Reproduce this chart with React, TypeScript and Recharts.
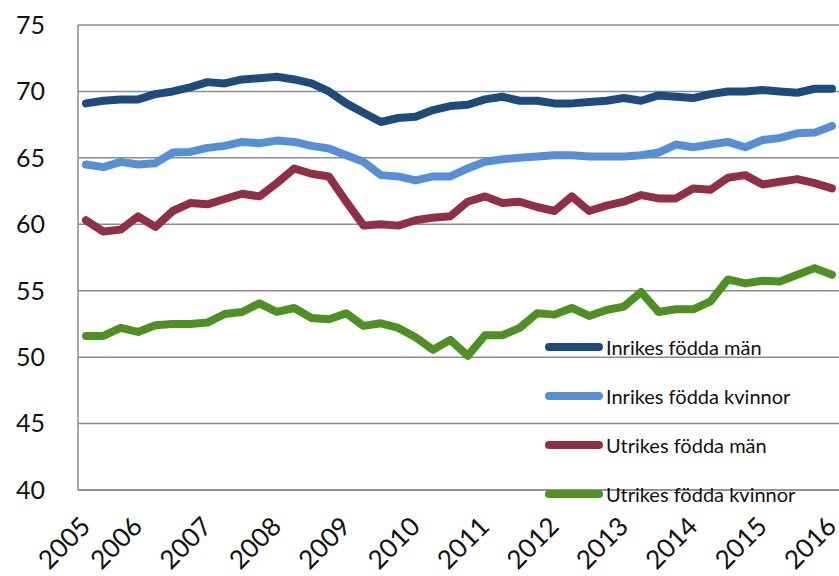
import { CartesianGrid, Legend, Line, LineChart, XAxis, YAxis } from 'recharts'

const quarters = [
  '2005K2', '2005K3', '2005K4',
  '2006K1', '2006K2', '2006K3', '2006K4',
  '2007K1', '2007K2', '2007K3', '2007K4',
  '2008K1', '2008K2', '2008K3', '2008K4',
  '2009K1', '2009K2', '2009K3', '2009K4',
  '2010K1', '2010K2', '2010K3', '2010K4',
  '2011K1', '2011K2', '2011K3', '2011K4',
  '2012K1', '2012K2', '2012K3', '2012K4',
  '2013K1', '2013K2', '2013K3', '2013K4',
  '2014K1', '2014K2', '2014K3', '2014K4',
  '2015K1', '2015K2', '2015K3', '2015K4',
  '2016K1'
]

const yearTicks = [
  '2005K2', '2006K1', '2007K1', '2008K1', '2009K1', '2010K1',
  '2011K1', '2012K1', '2013K1', '2014K1', '2015K1', '2016K1'
]

const yTicks = [40, 45, 50, 55, 60, 65, 70, 75]

const inrikesMan = [
  69.1, 69.3, 69.4, 69.4, 69.8, 70.0, 70.3, 70.7, 70.6, 70.9, 71.0, 71.1, 70.9, 70.6, 70.0,
  69.1, 68.4, 67.7, 68.0, 68.1, 68.6, 68.9, 69.0, 69.4, 69.6, 69.3, 69.3, 69.1, 69.1, 69.2,
  69.3, 69.5, 69.3, 69.7, 69.6, 69.5, 69.8, 70.0, 70.0, 70.1, 70.0, 69.9, 70.2, 70.2
]

const inrikesKvinnor = [
  64.5, 64.3, 64.7, 64.5, 64.6, 65.4, 65.45, 65.75, 65.9, 66.2, 66.1, 66.3, 66.2, 65.9, 65.7,
  65.2, 64.7, 63.7, 63.6, 63.3, 63.6, 63.6, 64.2, 64.7, 64.9, 65.0, 65.1, 65.2, 65.2, 65.1,
  65.1, 65.1, 65.2, 65.4, 66.0, 65.8, 66.0, 66.2, 65.8, 66.35, 66.5, 66.85, 66.9, 67.4
]

const utrikesMan = [
  60.3, 59.45, 59.6, 60.6, 59.8, 61.0, 61.6, 61.5, 61.9, 62.3, 62.1, 63.1, 64.2, 63.8, 63.6,
  61.7, 59.9, 60.0, 59.9, 60.3, 60.5, 60.6, 61.7, 62.1, 61.6, 61.7, 61.3, 61.0, 62.1, 61.0,
  61.4, 61.7, 62.2, 61.95, 61.95, 62.7, 62.6, 63.5, 63.7, 63.0, 63.2, 63.4, 63.1, 62.7
]

const utrikesKvinnor = [
  51.6, 51.6, 52.2, 51.9, 52.4, 52.5, 52.5, 52.6, 53.25, 53.4, 54.05, 53.4, 53.7, 52.95, 52.85,
  53.3, 52.35, 52.55, 52.2, 51.5, 50.55, 51.3, 50.1, 51.65, 51.65, 52.2, 53.3, 53.2, 53.7, 53.1,
  53.55, 53.8, 54.9, 53.4, 53.6, 53.6, 54.2, 55.85, 55.55, 55.75, 55.7, 56.2, 56.7, 56.2
]

const series = [
  { key: 'inrikesMan', name: 'Inrikes födda män', color: '#1f4a7c' },
  { key: 'inrikesKvinnor', name: 'Inrikes födda kvinnor', color: '#5590d6' },
  { key: 'utrikesMan', name: 'Utrikes födda män', color: '#922f48' },
  { key: 'utrikesKvinnor', name: 'Utrikes födda kvinnor', color: '#4f9022' }
]

const data = quarters.map((q, i) => ({
  q,
  inrikesMan: inrikesMan[i],
  inrikesKvinnor: inrikesKvinnor[i],
  utrikesMan: utrikesMan[i],
  utrikesKvinnor: utrikesKvinnor[i]
}))

const FONT = 'Lato, "Open Sans", sans-serif'

function YearTick({ x, y, payload }: any) {
  const ax = x + 6
  const ay = y + 38
  return (
    <text
      x={ax}
      y={ay}
      textAnchor="end"
      fontSize={26}
      fontFamily={FONT}
      fill="#111"
      transform={`rotate(-45 ${ax} ${ay})`}
    >
      {String(payload.value).slice(0, 4)}
    </text>
  )
}

function LegendBox() {
  return (
    <div style={{ display: 'flex', flexDirection: 'column' }}>
      {series.map((s) => (
        <div key={s.key} style={{ height: 49, display: 'flex', alignItems: 'center' }}>
          <svg width={64} height={10}>
            <line x1={8} y1={5} x2={58} y2={5} stroke={s.color} strokeWidth={8} strokeLinecap="round" />
          </svg>
          <span style={{ fontSize: 20, fontFamily: FONT, color: '#111', marginLeft: 1, whiteSpace: 'nowrap' }}>
            {s.name}
          </span>
        </div>
      ))}
    </div>
  )
}

export default function App() {
  return (
    <div style={{ position: 'absolute', left: 0, top: 0, width: 839, height: 576, background: '#fff' }}>
      <LineChart width={839} height={576} data={data} margin={{ top: 25, right: 0, bottom: 0, left: 0 }}>
        <CartesianGrid vertical={false} stroke="#8c8c8c" strokeWidth={1.5} />
        <XAxis
          dataKey="q"
          ticks={yearTicks}
          interval={0}
          height={86}
          padding={{ left: 8, right: 7 }}
          tickLine={false}
          tickSize={0}
          tickMargin={0}
          axisLine={{ stroke: '#8c8c8c', strokeWidth: 1.5 }}
          tick={<YearTick />}
        />
        <YAxis
          domain={[40, 75]}
          ticks={yTicks}
          interval={0}
          width={78}
          tickLine={false}
          tickSize={0}
          tickMargin={33}
          axisLine={{ stroke: '#8c8c8c', strokeWidth: 1.5 }}
          tick={{ fontSize: 25, fontFamily: FONT, fill: '#111' }}
        />
        <Legend
          layout="vertical"
          align="center"
          verticalAlign="middle"
          content={<LegendBox />}
          wrapperStyle={{ left: 541, top: 322, width: 298 }}
        />
        {series.map((s) => (
          <Line
            key={s.key}
            type="linear"
            dataKey={s.key}
            name={s.name}
            stroke={s.color}
            strokeWidth={8}
            strokeLinejoin="round"
            strokeLinecap="round"
            dot={false}
            activeDot={false}
            isAnimationActive={false}
          />
        ))}
      </LineChart>
    </div>
  )
}
